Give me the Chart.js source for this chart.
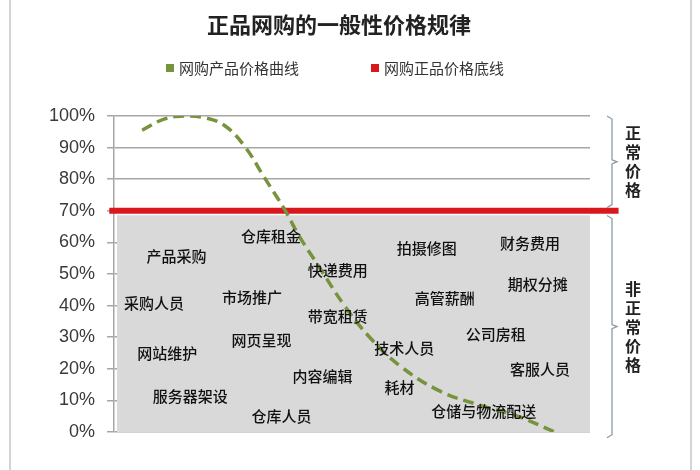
<!DOCTYPE html>
<html>
<head>
<meta charset="utf-8">
<script src="https://cdn.jsdelivr.net/npm/chart.js@4.4.1/dist/chart.umd.min.js"></script>
<style>
  body { margin: 0; background: #fff; }
  #wrap { position: relative; width: 700px; height: 470px; }
  #frame { position: absolute; left: 9px; top: 0; width: 679px; height: 470px;
           border-left: 2px solid #d4d4d4; border-right: 2px solid #d4d4d4; pointer-events: none; }
</style>
</head>
<body>
<div id="wrap">
  <canvas id="priceChart" width="700" height="470"></canvas>
  <div id="frame"></div>
</div>
<script>
        // Chart title and legend names
        const chartTitle = '正品网购的一般性价格规律';
        const curveName = '网购产品价格曲线';
        const floorName = '网购正品价格底线';

        // y axis ticks (percent)
        const yTicks = [0, 10, 20, 30, 40, 50, 60, 70, 80, 90, 100];

        // Price curve, x on a 0-100 scale across the plot, y in percent
        const curveX = [5.9, 10.5, 14.7, 18.9, 23.2, 27.4, 31.6, 35.8, 38.9, 43.2, 48.4, 53.7, 60.0, 68.4, 76.8, 85.3, 92.6];
        const curveY = [95.5, 99, 100, 99.5, 97, 90.5, 80.5, 70.5, 62, 52, 40, 30, 21, 13, 8.5, 4.7, 0];

        // Price floor line
        const floorX = [-1, 106];
        const floorY = [70, 70];

        // Gray "non-normal price" zone
        const zoneX = [0.6, 100];
        const zoneY = [68.6, 68.6];

        // Cost items written inside the zone
        const costItems = ['产品采购', '仓库租金', '快递费用', '拍摄修图', '财务费用', '期权分摊', '高管薪酬', '市场推广',
                           '采购人员', '带宽租赁', '网页呈现', '公司房租', '网站维护', '技术人员', '客服人员', '内容编辑',
                           '耗材', '服务器架设', '仓库人员', '仓储与物流配送'];
        const costX = [13.1, 33, 47, 65.7, 87.4, 89, 69.5, 29, 8.4, 47, 31, 80.2, 11.2, 61, 89.5, 43.8, 60, 16, 35.2, 77.7];
        const costY = [55.7, 62, 51.3, 58.2, 59.8, 46.8, 42.4, 42.7, 40.8, 36.7, 29, 31, 25, 26.6, 20, 17.7, 14, 11.4, 5, 6.6];

        // Brackets on the right side
        const bandNames = ['正常价格', '非正常价格'];
        const bandTop = [100, 68.5];
        const bandBottom = [71, -1.8];

        const toPoints = (xs, ys) => xs.map((x, i) => ({ x: x, y: ys[i] }));

        // Title, legend, cost labels and brackets
        const decorPlugin = {
            id: 'decor',
            afterDatasetsDraw(chart) {
                const ctx = chart.ctx;
                const xs = chart.scales.x, ys = chart.scales.y;
                ctx.save();
                ctx.textAlign = 'center';
                ctx.textBaseline = 'middle';
                ctx.fillStyle = '#111';
                ctx.font = '500 15px "Noto Sans CJK SC"';
                costItems.forEach((t, i) => {
                    ctx.fillText(t, xs.getPixelForValue(costX[i]), ys.getPixelForValue(costY[i]));
                });

                // brackets
                const bx = chart.chartArea.right + 22;
                ctx.strokeStyle = '#8c9aa8';
                ctx.lineWidth = 1.3;
                ctx.fillStyle = '#222';
                ctx.font = 'bold 16px "Noto Sans CJK SC"';
                bandNames.forEach((name, i) => {
                    const top = ys.getPixelForValue(bandTop[i]);
                    const bot = ys.getPixelForValue(bandBottom[i]);
                    const mid = (top + bot) / 2;
                    ctx.beginPath();
                    ctx.moveTo(bx - 5, top);
                    ctx.lineTo(bx, top + 3);
                    ctx.lineTo(bx, mid - 2);
                    ctx.lineTo(bx + 5, mid);
                    ctx.lineTo(bx, mid + 2);
                    ctx.lineTo(bx, bot - 3);
                    ctx.lineTo(bx - 5, bot);
                    ctx.stroke();
                    const chars = Array.from(name);
                    const step = 19;
                    const start = mid - (chars.length - 1) * step / 2;
                    chars.forEach((c, k) => ctx.fillText(c, bx + 21, start + k * step));
                });

                // title
                ctx.fillStyle = '#222';
                ctx.font = 'bold 22px "Noto Sans CJK SC"';
                ctx.fillText(chartTitle, 339, 25);

                // legend
                ctx.font = '15px "Noto Sans CJK SC"';
                ctx.textAlign = 'left';
                let lx = 166;
                [[curveName, '#77933c'], [floorName, '#d9181e']].forEach(item => {
                    ctx.fillStyle = item[1];
                    ctx.fillRect(lx, 64, 8, 8);
                    ctx.fillStyle = '#333';
                    ctx.fillText(item[0], lx + 13, 68);
                    lx += 13 + ctx.measureText(item[0]).width + 72;
                });
                ctx.restore();
            }
        };

        const priceCtx = document.getElementById('priceChart').getContext('2d');
        const priceChart = new Chart(priceCtx, {
            type: 'line',
            data: {
                datasets: [{
                    label: curveName,
                    data: toPoints(curveX, curveY),
                    borderColor: '#77933c',
                    backgroundColor: '#77933c',
                    borderWidth: 3.5,
                    borderDash: [11, 6],
                    pointRadius: 0,
                    tension: 0.4,
                    fill: false,
                    order: 1
                }, {
                    label: floorName,
                    data: toPoints(floorX, floorY),
                    borderColor: '#d9181e',
                    backgroundColor: '#d9181e',
                    borderWidth: 6,
                    pointRadius: 0,
                    fill: false,
                    clip: false,
                    order: 2
                }, {
                    label: 'zone',
                    data: toPoints(zoneX, zoneY),
                    borderWidth: 0,
                    borderColor: 'rgba(0,0,0,0)',
                    backgroundColor: '#d9d9d9',
                    pointRadius: 0,
                    fill: 'origin',
                    order: 3
                }]
            },
            options: {
                responsive: false,
                animation: false,
                layout: {
                    padding: { top: 116, bottom: 38, left: 37, right: 110 }
                },
                plugins: {
                    legend: { display: false },
                    title: { display: false },
                    tooltip: { enabled: false }
                },
                scales: {
                    x: {
                        type: 'linear',
                        min: 0,
                        max: 100,
                        display: false
                    },
                    y: {
                        min: 0,
                        max: 100,
                        afterBuildTicks: axis => { axis.ticks = yTicks.map(v => ({ value: v })); },
                        ticks: {
                            padding: 12,
                            color: '#3a3a3a',
                            font: { family: 'Liberation Sans', size: 18 },
                            callback: v => v + '%'
                        },
                        grid: {
                            color: '#a6a6a6',
                            lineWidth: 1.5,
                            tickLength: 7
                        },
                        border: { color: '#a6a6a6', width: 1.5 }
                    }
                }
            },
            plugins: [decorPlugin]
        });
</script>
</body>
</html>
